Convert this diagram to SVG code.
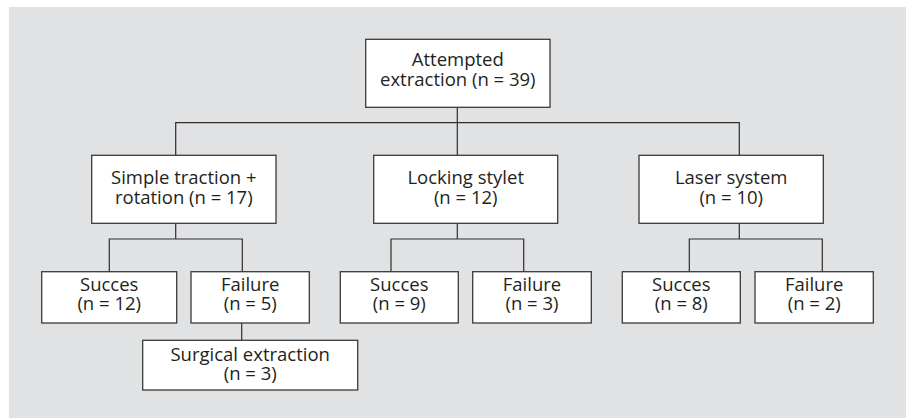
<svg xmlns="http://www.w3.org/2000/svg" width="911" height="418" viewBox="0 0 911 418">
<style>
.box{fill:#ffffff;stroke:#3a3a3a;stroke-width:1.3}
.lbl{font-family:"Open Sans","Noto Sans","Liberation Sans",sans-serif;font-size:18.5px;fill:#231f20;text-anchor:middle}
.con{fill:none;stroke:#2e2e2e;stroke-width:1.2}
</style>
<rect x="9" y="7" width="897" height="411" fill="#e1e2e4"/>
<g id="connectors">
<path class="con" d="M457.3,107.3V155.3M175.7,155.3V122.7H739.3V155.3"/>
<path class="con" d="M175.7,223.3V239M109.3,271.7V239H242.3V271.7"/>
<path class="con" d="M457.3,223.3V239M391,271.7V239H523.7V271.7"/>
<path class="con" d="M739.3,223.3V239M689.3,271.7V239H822.3V271.7"/>
<path class="con" d="M241.7,323V340.3"/>
</g>
<g id="root">
<rect class="box" x="365.7" y="39.3" width="184.3" height="68"/>
<text class="lbl"><tspan x="457.8" y="66">Attempted</tspan><tspan x="457.8" y="86">extraction (n = 39)</tspan></text>
</g>
<g id="simple">
<rect class="box" x="91.7" y="155.3" width="184.3" height="68"/>
<text class="lbl"><tspan x="183.8" y="184">Simple traction +</tspan><tspan x="183.8" y="203.5">rotation (n = 17)</tspan></text>
</g>
<g id="locking">
<rect class="box" x="373.7" y="155.3" width="184" height="68"/>
<text class="lbl"><tspan x="465.7" y="184">Locking stylet</tspan><tspan x="465.7" y="203.5">(n = 12)</tspan></text>
</g>
<g id="laser">
<rect class="box" x="639" y="155.3" width="184.3" height="68"/>
<text class="lbl"><tspan x="731.2" y="184">Laser system</tspan><tspan x="731.2" y="203.5">(n = 10)</tspan></text>
</g>
<g id="simple-success">
<rect class="box" x="41.7" y="271.7" width="135" height="51.3"/>
<text class="lbl"><tspan x="109.2" y="291">Succes</tspan><tspan x="109.2" y="310">(n = 12)</tspan></text>
</g>
<g id="simple-failure">
<rect class="box" x="191" y="271.7" width="118.3" height="51.3"/>
<text class="lbl"><tspan x="250.2" y="291">Failure</tspan><tspan x="250.2" y="310">(n = 5)</tspan></text>
</g>
<g id="surgical">
<rect class="box" x="142.7" y="340.3" width="215" height="49.7"/>
<text class="lbl"><tspan x="250.2" y="360.5">Surgical extraction</tspan><tspan x="250.2" y="379.5">(n = 3)</tspan></text>
</g>
<g id="locking-success">
<rect class="box" x="340.3" y="271.7" width="118" height="51.3"/>
<text class="lbl"><tspan x="399.3" y="291">Succes</tspan><tspan x="399.3" y="310">(n = 9)</tspan></text>
</g>
<g id="locking-failure">
<rect class="box" x="472.7" y="271.7" width="118.6" height="51.3"/>
<text class="lbl"><tspan x="532" y="291">Failure</tspan><tspan x="532" y="310">(n = 3)</tspan></text>
</g>
<g id="laser-success">
<rect class="box" x="622.3" y="271.7" width="118" height="51.3"/>
<text class="lbl"><tspan x="681.3" y="291">Succes</tspan><tspan x="681.3" y="310">(n = 8)</tspan></text>
</g>
<g id="laser-failure">
<rect class="box" x="755" y="271.7" width="118.3" height="51.3"/>
<text class="lbl"><tspan x="814.2" y="291">Failure</tspan><tspan x="814.2" y="310">(n = 2)</tspan></text>
</g>
</svg>
